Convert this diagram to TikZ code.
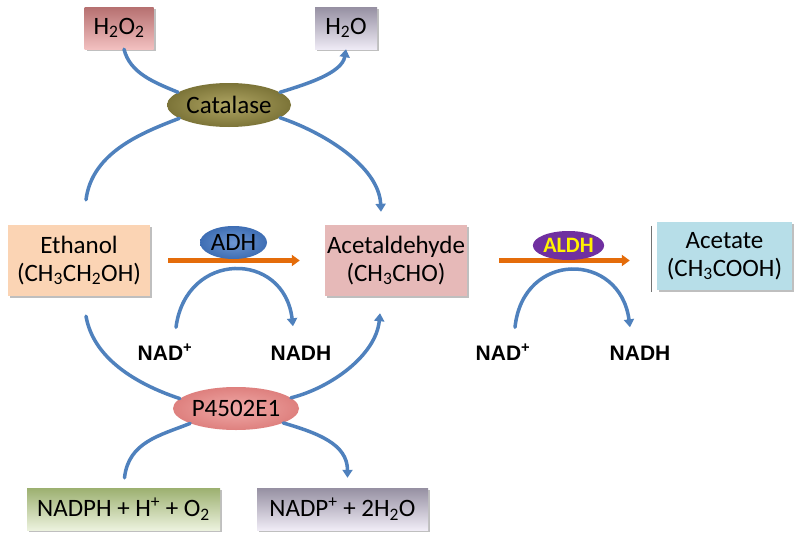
\documentclass[tikz,border=0pt]{standalone}
\usepackage{fontspec}
\setmainfont{Carlito}
\newfontfamily\arialfont{Liberation Sans}
\usetikzlibrary{arrows.meta,shapes.geometric,shadows}
\definecolor{flowblue}{HTML}{4F81BD}
\definecolor{orangearr}{HTML}{E46C0A}
\tikzset{
  box/.style={rectangle, inner sep=0pt, align=center, text=black,
    font=\fontsize{25}{28}\selectfont,
    drop shadow={shadow xshift=2pt, shadow yshift=-2pt, opacity=0.25, fill=black}},
  enz/.style={ellipse, inner sep=0pt, text=black, font=\fontsize{25}{28}\selectfont},
  cof/.style={inner sep=0pt, text height=15pt, text depth=0pt,
    font=\arialfont\bfseries\fontsize{21}{24}\selectfont},
  flow/.style={draw=flowblue, line width=3.5pt, line cap=round},
  flowarr/.style={flow, -{Triangle[length=8pt,width=10pt]}},
  rxn/.style={draw=orangearr, line width=4.5pt, -{Triangle[length=8pt,width=11pt]}}
}
\begin{document}
\begin{tikzpicture}[x=1pt,y=-1pt]
\useasboundingbox[fill=white] (0,0) rectangle (800,538);

% boxes
\node[box, minimum width=69pt, minimum height=42pt, top color={rgb,255:red,182;green,112;blue,112}, bottom color={rgb,255:red,242;green,192;blue,192}] (h2o2) at (119,28) {H\textsubscript{2}O\textsubscript{2}};
\node[box, minimum width=62pt, minimum height=42pt, top color={rgb,255:red,150;green,144;blue,162}, bottom color={rgb,255:red,238;green,234;blue,245}] (h2o) at (346,28) {H\textsubscript{2}O};
\node[box, minimum width=142pt, minimum height=71pt, fill={rgb,255:red,251;green,212;blue,180}] (eth) at (79,260.5) {Ethanol\\(CH\textsubscript{3}CH\textsubscript{2}OH)};
\node[box, minimum width=142pt, minimum height=71pt, fill={rgb,255:red,230;green,185;blue,184}] (acet) at (396,260.5) {Acetaldehyde\\(CH\textsubscript{3}CHO)};
\node[box, minimum width=135pt, minimum height=68pt, fill={rgb,255:red,183;green,222;blue,232}] (ac) at (724.5,256) {Acetate\\(CH\textsubscript{3}COOH)};
\node[box, minimum width=193pt, minimum height=42pt, top color={rgb,255:red,156;green,176;blue,112}, bottom color={rgb,255:red,236;green,242;blue,222}] (nadph) at (123.5,509) {NADPH + H\textsuperscript{+} + O\textsubscript{2}};
\node[box, minimum width=171pt, minimum height=42pt, top color={rgb,255:red,150;green,144;blue,162}, bottom color={rgb,255:red,240;green,236;blue,246}] (nadp) at (342.5,509) {NADP\textsuperscript{+} + 2H\textsubscript{2}O};
\draw[black!55, line width=1.3pt] ([xshift=-5pt,yshift=-4pt]ac.north west) -- ([xshift=-5pt,yshift=-2pt]ac.south west);

% main reaction arrows
\draw[rxn, shorten <=18pt, shorten >=25pt] (eth.east) -- (eth.east -| acet.west);
\draw[rxn, shorten <=32pt, shorten >=27pt] (acet.east) -- (acet.east -| ac.west);

% enzymes
\node[enz, minimum width=124pt, minimum height=44pt, inner color={rgb,255:red,176;green,166;blue,100}, outer color={rgb,255:red,124;green,116;blue,56}] (cat) at (229,105) {Catalase};
\node[enz, minimum width=67pt, minimum height=33pt, inner color={rgb,255:red,110;green,150;blue,210}, outer color={rgb,255:red,62;green,110;blue,180}] (adh) at (233.5,242.5) {ADH};
\node[enz, minimum width=67pt, minimum height=29pt, fill={rgb,255:red,112;green,48;blue,160}, text=yellow, font=\bfseries\fontsize{22}{26}\selectfont] (aldh) at (568.5,245.5) {ALDH};
\node[enz, minimum width=126pt, minimum height=43pt, inner color={rgb,255:red,240;green,170;blue,168}, outer color={rgb,255:red,222;green,128;blue,126}] (p450) at (236,408.5) {P4502E1};

% cofactor labels
\node[cof] (nad1) at (165,353) {NAD\textsuperscript{+}};
\node[cof] (nadh1) at (301,353) {NADH};
\node[cof] (nad2) at (503,353) {NAD\textsuperscript{+}};
\node[cof] (nadh2) at (640,353) {NADH};

% catalase branch
\draw[flow] ([xshift=5pt]h2o2.south) .. controls +(6,24) and +(-24,-10) .. (cat.166);
\draw[flowarr] (cat.14) .. controls +(26,-8) and +(-4,24) .. (h2o.south);
\draw[flow] ([xshift=7pt,yshift=25pt]eth.north) .. controls +(6,-48) and +(-36,14) .. (cat.195);
\draw[flowarr] (cat.-14) .. controls +(42,14) and +(-2,-46) .. ([xshift=-15pt,yshift=13pt]acet.north);

% P450 branch
\draw[flow] ([xshift=7pt,yshift=-20pt]eth.south) .. controls +(8,46) and +(-36,-12) .. (p450.170);
\draw[flowarr] (p450.11) .. controls +(40,-10) and +(-4,42) .. ([xshift=-16pt,yshift=-17pt]acet.south);
\draw[flow] ([xshift=1pt,yshift=10pt]nadph.north) .. controls +(4,-36) and +(-30,12) .. (p450.198);
\draw[flowarr] (p450.-17) .. controls +(34,10) and +(0,-34) .. ([xshift=5pt,yshift=10pt]nadp.north);

% ADH and ALDH cofactor cycles
\draw[flowarr] ([xshift=11pt,yshift=18pt]nad1.north) .. controls +(10,-77) and +(-9,-76) .. ([xshift=-8pt,yshift=19pt]nadh1.north);
\draw[flowarr] ([xshift=12pt,yshift=18pt]nad2.north) .. controls +(8,-77) and +(-10,-76) .. ([xshift=-10pt,yshift=18pt]nadh2.north);
\end{tikzpicture}
\end{document}
